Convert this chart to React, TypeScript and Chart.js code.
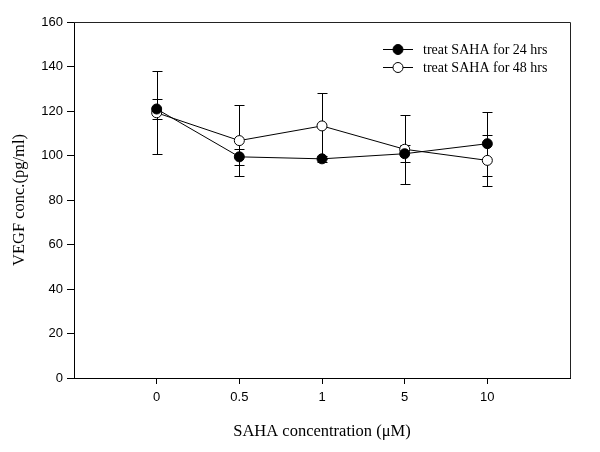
import React, { useEffect, useRef } from "react";
import { Chart, registerables } from "chart.js";

Chart.register(...registerables);

const categories = ["0", "0.5", "1", "5", "10"];
const hrs24 = [120.9, 99.4, 98.5, 100.8, 105.3];
const err24 = [4.6, 3.7, 1.5, 3.7, 14.4];
const hrs48 = [119.2, 106.7, 113.3, 102.8, 97.8];
const err48 = [18.6, 16.0, 15.0, 15.6, 11.4];
const seriesLabels = ["treat SAHA for 24 hrs", "treat SAHA for 48 hrs"];
const yTicks = [0, 20, 40, 60, 80, 100, 120, 140, 160];

const errors = [err24, err48];

const boxPlugin = {
  id: "boxPlugin",
  beforeDatasetsDraw(chart: any) {
    const { ctx, chartArea } = chart;
    ctx.save();
    ctx.strokeStyle = "#222";
    ctx.lineWidth = 1;
    ctx.beginPath();
    ctx.moveTo(chartArea.left, chartArea.top + 0.5);
    ctx.lineTo(chartArea.right + 0.5, chartArea.top + 0.5);
    ctx.lineTo(chartArea.right + 0.5, chartArea.bottom);
    ctx.stroke();
    // error bars
    const xs = chart.scales.x;
    const ys = chart.scales.y;
    chart.data.datasets.forEach((ds: any, di: number) => {
      ds.data.forEach((pt: any, i: number) => {
        const e = errors[di][i];
        const px = Math.round(xs.getPixelForValue(pt.x)) + 0.5;
        const yt = Math.round(ys.getPixelForValue(pt.y + e)) + 0.5;
        const yb = Math.round(ys.getPixelForValue(pt.y - e)) + 0.5;
        ctx.strokeStyle = "#000";
        ctx.beginPath();
        ctx.moveTo(px, yt);
        ctx.lineTo(px, yb);
        ctx.moveTo(px - 5, yt);
        ctx.lineTo(px + 5, yt);
        ctx.moveTo(px - 5, yb);
        ctx.lineTo(px + 5, yb);
        ctx.stroke();
      });
    });
    ctx.restore();
  },
  afterDraw(chart: any) {
    const { ctx } = chart;
    ctx.save();
    const rows = [49, 67];
    seriesLabels.forEach((lab, i) => {
      const y = rows[i] + 0.5;
      ctx.strokeStyle = "#000";
      ctx.lineWidth = 1;
      ctx.beginPath();
      ctx.moveTo(383, y);
      ctx.lineTo(413, y);
      ctx.stroke();
      ctx.beginPath();
      ctx.arc(398, y, 5, 0, Math.PI * 2);
      ctx.fillStyle = i === 0 ? "#000" : "#fff";
      ctx.fill();
      ctx.stroke();
      ctx.fillStyle = "#000";
      ctx.font = '14px "Liberation Serif", "Times New Roman", serif';
      ctx.textBaseline = "middle";
      ctx.textAlign = "left";
      ctx.fillText(lab, 423, y + 1);
    });
    ctx.restore();
  },
};

export default function App() {
  const ref = useRef<HTMLCanvasElement | null>(null);
  useEffect(() => {
    if (!ref.current) return;
    const mk = (vals: number[]) => vals.map((v, i) => ({ x: i, y: v }));
    const chart = new Chart(ref.current, {
      type: "line",
      data: {
        datasets: [
          {
            label: seriesLabels[0],
            data: mk(hrs24),
            borderColor: "#000",
            borderWidth: 1,
            backgroundColor: "#000",
            pointBackgroundColor: "#000",
            pointBorderColor: "#000",
            pointBorderWidth: 1,
            pointRadius: 5,
          },
          {
            label: seriesLabels[1],
            data: mk(hrs48),
            borderColor: "#000",
            borderWidth: 1,
            backgroundColor: "#fff",
            pointBackgroundColor: "#fff",
            pointBorderColor: "#000",
            pointBorderWidth: 1,
            pointRadius: 5,
          },
        ],
      },
      options: {
        animation: false,
        responsive: true,
        maintainAspectRatio: false,
        layout: { padding: { top: 22, right: 30, left: 0, bottom: 0 } },
        plugins: { legend: { display: false }, tooltip: { enabled: false } },
        scales: {
          x: {
            type: "linear",
            min: -1,
            max: 5,
            afterBuildTicks: (axis: any) => {
              axis.ticks = categories.map((_, i) => ({ value: i }));
            },
            afterFit: (axis: any) => {
              axis.height = 74;
            },
            grid: { drawOnChartArea: false, tickLength: 6, color: "#000" },
            border: { color: "#000", width: 1 },
            ticks: {
              callback: (v: any) => categories[v] ?? "",
              color: "#000",
              padding: 6,
              maxRotation: 0,
              font: { family: '"Liberation Sans", Arial, sans-serif', size: 13 },
            },
            title: {
              display: true,
              text: "SAHA concentration (\u03bcM)",
              color: "#000",
              padding: { top: 0, bottom: 10 },
              font: { family: '"Liberation Serif", "Times New Roman", serif', size: 16.5 },
            },
          },
          y: {
            min: 0,
            max: 160,
            afterBuildTicks: (axis: any) => {
              axis.ticks = yTicks.map((v) => ({ value: v }));
            },
            afterFit: (axis: any) => {
              axis.width = 74;
            },
            grid: { drawOnChartArea: false, tickLength: 7, color: "#000" },
            border: { color: "#000", width: 1 },
            ticks: {
              color: "#000",
              padding: 4,
              font: { family: '"Liberation Sans", Arial, sans-serif', size: 13 },
            },
            title: {
              display: true,
              text: "VEGF conc.(pg/ml)",
              color: "#000",
              padding: { top: 10, bottom: 0 },
              font: { family: '"Liberation Serif", "Times New Roman", serif', size: 16.5 },
            },
          },
        },
      },
      plugins: [boxPlugin],
    } as any);
    return () => chart.destroy();
  }, []);
  return (
    <div style={{ position: "absolute", left: 0, top: 0, width: 600, height: 452, background: "#fff" }}>
      <canvas ref={ref} />
    </div>
  );
}
